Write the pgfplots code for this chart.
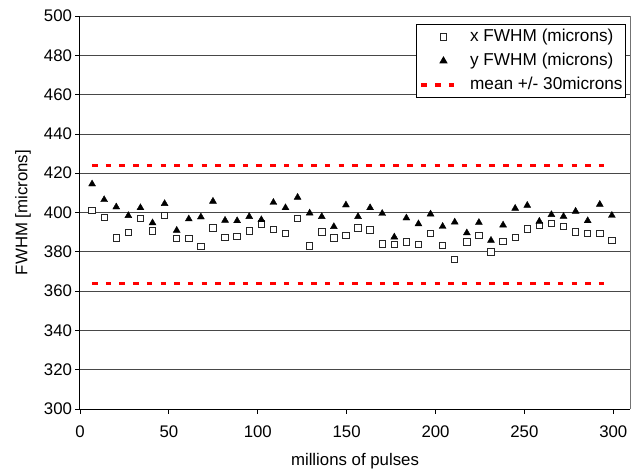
\documentclass[border=0pt]{standalone}
\usepackage{fontspec}
\setmainfont{Liberation Sans}
\usepackage{pgfplots}
\pgfplotsset{compat=1.18}
\usepackage{pgfplotstable}

\pgfplotstableread{
x xf yf
6.8 401.0 414.5
13.6 397.6 406.5
20.4 387.0 402.8
27.2 389.9 398.4
34.0 397.0 402.4
40.8 390.6 394.7
47.6 398.4 404.5
54.4 386.7 390.9
61.2 386.7 396.7
68.0 382.8 397.7
74.8 392.1 405.7
81.6 387.3 396.0
88.4 387.7 395.8
95.2 390.7 397.9
102.0 394.2 396.3
108.8 391.3 405.1
115.6 389.4 402.4
122.4 397.0 407.7
129.2 382.9 399.7
136.0 390.2 397.9
142.8 387.0 392.8
149.6 388.2 403.8
156.4 392.1 397.9
163.2 391.1 402.4
170.0 384.0 399.5
176.8 383.8 387.5
183.6 385.0 397.2
190.4 383.6 394.2
197.2 389.2 399.2
204.0 383.1 392.9
210.8 376.0 395.1
217.6 385.1 389.6
224.4 388.4 394.9
231.2 379.9 385.8
238.0 385.3 393.6
244.8 387.3 402.1
251.6 391.6 403.6
258.4 393.4 395.5
265.2 394.5 398.9
272.0 392.9 398.0
278.8 390.1 400.6
285.6 389.2 395.8
292.4 389.2 404.1
299.2 385.8 398.5
}\data

\pgfplotstableread{
x lo hi
6.8 363.8 423.8
299.2 363.8 423.8
}\band

\begin{document}
\begin{tikzpicture}
\path[use as bounding box] (-80pt,-63pt) rectangle (551pt,409pt);
\begin{axis}[
  at={(0,0)}, anchor=south west,
  scale only axis, width=550pt, height=393pt,
  xmin=0, xmax=309.4, ymin=300, ymax=500,
  xtick={0,50,...,300}, ytick={300,320,...,500},
  axis lines*=left,
  axis line style={-, black, line width=1pt},
  ymajorgrids, major grid style={draw=black!72, line width=0.8pt},
  tick align=outside, major tick length=4.5pt,
  tick style={black, line width=0.8pt},
  /pgf/number format/assume math mode=true,
  ticklabel style={font=\fontsize{16.8}{18}\selectfont},
  xticklabel style={yshift=-9pt},
  label style={font=\fontsize{16.8}{18}\selectfont},
  xlabel={millions of pulses},
  ylabel={FWHM [microns]},
  xlabel style={at={(axis description cs:0.5,-0.1323)}, anchor=center},
  ylabel style={at={(axis description cs:-0.1036,0.5)}, anchor=center},
  clip=false,
  legend style={at={(axis description cs:0.9927,0.9796)}, anchor=north east,
    draw=black, line width=0.8pt, fill=white,
    font=\fontsize{17.2}{18}\selectfont,
    nodes={inner sep=0pt, text height=12pt, text depth=3.5pt},
    row sep=8.5pt, inner xsep=3pt, inner ysep=4.75pt,
    cells={anchor=west}},
  legend image code/.code={\draw[mark repeat=2,mark phase=2,#1] plot coordinates {(0pt,0pt) (22pt,0pt) (39pt,0pt)};},
]
\addplot[only marks, mark=square*, mark size=3.2pt, mark options={fill=white, draw=black!85, line width=0.9pt}] table[x=x,y=xf]{\data};
\addlegendentry{\hspace{8pt}x FWHM (microns)}
\addplot[only marks, mark=triangle*, mark size=4pt, mark options={fill=black, draw=black}] table[x=x,y=yf]{\data};
\addlegendentry{\hspace{8pt}y FWHM (microns)}
\addplot[red, line width=3.3pt, dash pattern=on 5.5pt off 8.2pt] table[x=x,y=hi]{\band};
\addlegendentry{\hspace{8pt}mean +/- 30microns}
\addplot[red, line width=3.3pt, dash pattern=on 5.5pt off 8.2pt, forget plot] table[x=x,y=lo]{\band};
\draw[black!55, line width=0.8pt] (rel axis cs:1,0) -- (rel axis cs:1,1);
\end{axis}
\end{tikzpicture}
\end{document}
